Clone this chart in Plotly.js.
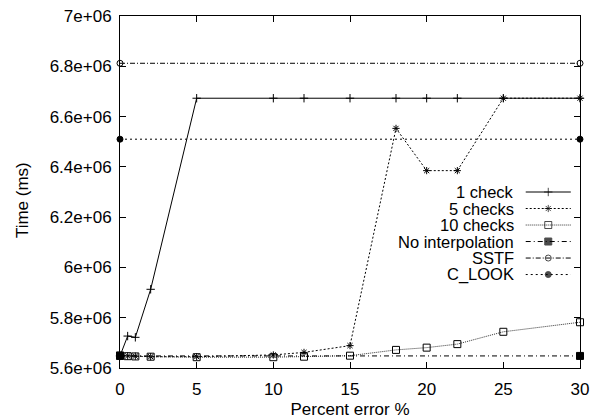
<!DOCTYPE html>
<html>
<head>
<meta charset="utf-8">
<script src="https://cdn.plot.ly/plotly-3.0.1.min.js"></script>
<style>html,body{margin:0;padding:0;background:#fff}#chart{width:596px;height:419px}</style>
</head>
<body>
<div id="chart"></div>
<script>
// ---- data ----
var xPct = [0, 0.5, 1, 2, 5, 10, 12, 15, 18, 20, 22, 25, 30];
var oneCheck = [5.648e6, 5.727e6, 5.722e6, 5.913e6, 6.673e6, 6.673e6, 6.673e6, 6.673e6, 6.673e6, 6.673e6, 6.673e6, 6.673e6, 6.673e6];
var fiveChecks = [5.650e6, 5.648e6, 5.647e6, 5.645e6, 5.645e6, 5.652e6, 5.662e6, 5.689e6, 6.553e6, 6.385e6, 6.385e6, 6.673e6, 6.673e6];
var tenChecks = [5.650e6, 5.647e6, 5.646e6, 5.645e6, 5.643e6, 5.643e6, 5.645e6, 5.649e6, 5.672e6, 5.681e6, 5.695e6, 5.744e6, 5.782e6];
var xRefEnds = [0, 30];
var noInterp = [5.648e6, 5.648e6];
var sstf = [6.812e6, 6.812e6];
var cLook = [6.51e6, 6.51e6];
var seriesNames = ["1 check", "5 checks", "10 checks", "No interpolation", "SSTF", "C_LOOK"];
var xTicks = [0, 5, 10, 15, 20, 25, 30];
var yTicks = [5.6e6, 5.8e6, 6.0e6, 6.2e6, 6.4e6, 6.6e6, 6.8e6, 7.0e6];
var yTickText = ["5.6e+06", "5.8e+06", "6e+06", "6.2e+06", "6.4e+06", "6.6e+06", "6.8e+06", "7e+06"];

// ---- styles ----
var FONT = "Liberation Sans, Arial, Helvetica, sans-serif";
var FS = 17;
var styles = [
  {dash: "solid", color: "#000", symbol: "cross-thin-open", size: 6},
  {dash: "2px,2px", color: "#000", symbol: "asterisk-open", size: 6},
  {dash: "1px,1px", color: "#333", symbol: "square-open", size: 7},
  {dash: "5px,3px,1px,3px", color: "#000", symbol: "square", size: 7},
  {dash: "5px,2px,1px,2px", color: "#000", symbol: "circle-open", size: 6},
  {dash: "2px,3px", color: "#000", symbol: "circle", size: 6}
];
var seriesX = [xPct, xPct, xPct, xRefEnds, xRefEnds, xRefEnds];
var seriesY = [oneCheck, fiveChecks, tenChecks, noInterp, sstf, cLook];

var traces = [];
for (var i = 0; i < seriesY.length; i++) {
  var s = styles[i];
  traces.push({
    x: seriesX[i], y: seriesY[i], type: "scatter", mode: "lines+markers",
    name: seriesNames[i], showlegend: false, cliponaxis: false,
    line: {color: s.color, width: 1, dash: s.dash},
    marker: {symbol: s.symbol, size: s.size, color: "#000", line: {color: "#000", width: 1}}
  });
}

// ---- gnuplot-style key: text on the left, sample on the right ----
var keyTop = 0.5, keyStep = 0.0469, keyX0 = 0.882, keyXm = 0.931, keyX1 = 0.980, keyTextX = 0.859;
var annotations = [];
for (var j = 0; j < seriesNames.length; j++) {
  var st = styles[j];
  var ky = keyTop - j * keyStep;
  traces.push({
    x: [keyX0, keyXm, keyX1], y: [ky, ky, ky], xaxis: "x2", yaxis: "y2",
    type: "scatter", mode: "lines+markers", showlegend: false, hoverinfo: "skip",
    line: {color: st.color, width: 1, dash: st.dash},
    marker: {symbol: st.symbol, size: [0, st.size, 0], color: "#000", line: {color: "#000", width: 1}}
  });
  annotations.push({
    xref: "paper", yref: "paper", x: keyTextX, y: ky, xanchor: "right", yanchor: "middle",
    text: seriesNames[j], showarrow: false, borderpad: 0, font: {family: FONT, size: 16.5, color: "#000"}
  });
}
// y-axis title placed like gnuplot's ylabel
annotations.push({
  xref: "paper", yref: "paper", x: -0.213, y: 0.477, xanchor: "center", yanchor: "middle",
  text: "Time (ms)", textangle: -90, showarrow: false, font: {family: FONT, size: FS, color: "#000"}
});

var axisCommon = {
  showline: true, linecolor: "#000", linewidth: 1, mirror: "ticks",
  ticks: "inside", ticklen: 6, tickwidth: 1, tickcolor: "#000",
  showgrid: false, zeroline: false,
  tickfont: {family: FONT, size: FS, color: "#000"}
};

var layout = {
  width: 596, height: 419,
  margin: {l: 120, r: 16, t: 16, b: 51},
  paper_bgcolor: "#fff", plot_bgcolor: "#fff",
  font: {family: FONT, size: FS, color: "#000"},
  showlegend: false,
  xaxis: Object.assign({}, axisCommon, {
    range: [0, 30], tickmode: "array", tickvals: xTicks, ticktext: xTicks.map(String),
    ticklabelstandoff: 6,
    title: {text: "Percent error %", font: {family: FONT, size: FS, color: "#000"}, standoff: 6}
  }),
  yaxis: Object.assign({}, axisCommon, {
    range: [5.6e6, 7.0e6], tickmode: "array", tickvals: yTicks, ticktext: yTickText,
    ticklabelstandoff: 4
  }),
  xaxis2: {overlaying: "x", range: [0, 1], visible: false, fixedrange: true},
  yaxis2: {overlaying: "y", range: [0, 1], visible: false, fixedrange: true},
  annotations: annotations
};

Plotly.newPlot("chart", traces, layout, {displayModeBar: false, staticPlot: true});
</script>
</body>
</html>
